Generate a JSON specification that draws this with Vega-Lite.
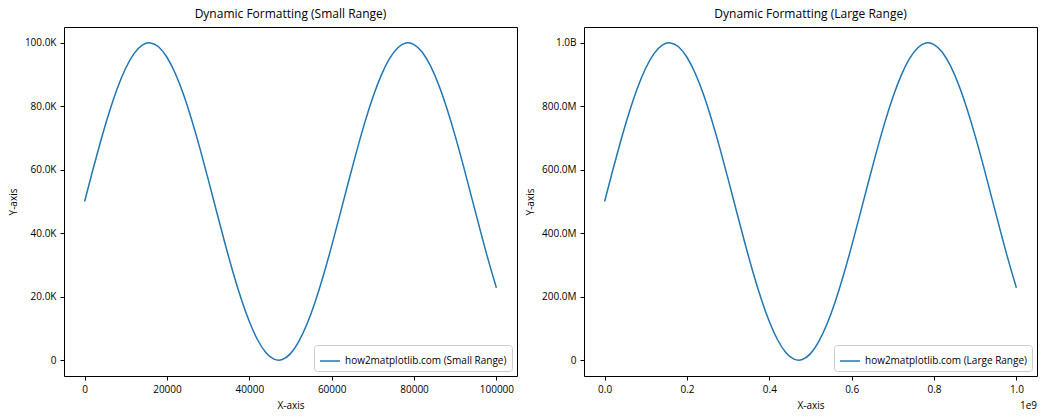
{
  "$schema": "https://vega.github.io/schema/vega-lite/v6.json",
  "background": "white",
  "padding": {"left": 7, "top": 7, "right": 5, "bottom": 5},
  "spacing": 7,
  "config": {
    "font": "Open Sans",
    "view": {"stroke": "black", "strokeWidth": 1},
    "axis": {"grid": false, "domain": false, "tickColor": "black", "tickSize": 4, "labelColor": "black", "labelFontSize": 10, "titleFontSize": 10, "titleFontWeight": "normal", "titleColor": "black", "labelPadding": 4, "titlePadding": 6},
    "title": {"fontSize": 12, "fontWeight": "normal", "offset": 6, "color": "black"},
    "legend": {"symbolType": "stroke", "symbolStrokeWidth": 1.5, "symbolSize": 400, "strokeColor": "#cccccc", "fillColor": "white", "padding": 5, "cornerRadius": 3, "labelFontSize": 10, "labelColor": "black", "labelLimit": 0, "offset": 5}
  },
  "datasets": {
    "small": [
      {"x": 0, "y": 50000}, {"x": 2000, "y": 59934}, {"x": 4000, "y": 69471}, {"x": 6000, "y": 78232}, {"x": 8000, "y": 85868},
      {"x": 10000, "y": 92074}, {"x": 12000, "y": 96602}, {"x": 14000, "y": 99273}, {"x": 16000, "y": 99979}, {"x": 18000, "y": 98693},
      {"x": 20000, "y": 95465}, {"x": 22000, "y": 90425}, {"x": 24000, "y": 83773}, {"x": 26000, "y": 75775}, {"x": 28000, "y": 66750},
      {"x": 30000, "y": 57056}, {"x": 32000, "y": 47082}, {"x": 34000, "y": 37223}, {"x": 36000, "y": 27874}, {"x": 38000, "y": 19407},
      {"x": 40000, "y": 12160}, {"x": 42000, "y": 6421}, {"x": 44000, "y": 2420}, {"x": 46000, "y": 316}, {"x": 48000, "y": 192},
      {"x": 50000, "y": 2054}, {"x": 52000, "y": 5828}, {"x": 54000, "y": 11362}, {"x": 56000, "y": 18437}, {"x": 58000, "y": 26770},
      {"x": 60000, "y": 36029}, {"x": 62000, "y": 45846}, {"x": 64000, "y": 55828}, {"x": 66000, "y": 65577}, {"x": 68000, "y": 74706},
      {"x": 70000, "y": 82850}, {"x": 72000, "y": 89684}, {"x": 74000, "y": 94935}, {"x": 76000, "y": 98396}, {"x": 78000, "y": 99927},
      {"x": 80000, "y": 99468}, {"x": 82000, "y": 97037}, {"x": 84000, "y": 92730}, {"x": 86000, "y": 86720}, {"x": 88000, "y": 79246},
      {"x": 90000, "y": 70606}, {"x": 92000, "y": 61145}, {"x": 94000, "y": 51239}, {"x": 96000, "y": 41284}, {"x": 98000, "y": 31676},
      {"x": 100000, "y": 22799}
    ],
    "large": [
      {"x": 0, "y": 500000000}, {"x": 20000000, "y": 599340000}, {"x": 40000000, "y": 694710000}, {"x": 60000000, "y": 782320000}, {"x": 80000000, "y": 858680000},
      {"x": 100000000, "y": 920740000}, {"x": 120000000, "y": 966020000}, {"x": 140000000, "y": 992730000}, {"x": 160000000, "y": 999790000}, {"x": 180000000, "y": 986930000},
      {"x": 200000000, "y": 954650000}, {"x": 220000000, "y": 904250000}, {"x": 240000000, "y": 837730000}, {"x": 260000000, "y": 757750000}, {"x": 280000000, "y": 667500000},
      {"x": 300000000, "y": 570560000}, {"x": 320000000, "y": 470820000}, {"x": 340000000, "y": 372230000}, {"x": 360000000, "y": 278740000}, {"x": 380000000, "y": 194070000},
      {"x": 400000000, "y": 121600000}, {"x": 420000000, "y": 64210000}, {"x": 440000000, "y": 24200000}, {"x": 460000000, "y": 3160000}, {"x": 480000000, "y": 1920000},
      {"x": 500000000, "y": 20540000}, {"x": 520000000, "y": 58280000}, {"x": 540000000, "y": 113620000}, {"x": 560000000, "y": 184370000}, {"x": 580000000, "y": 267700000},
      {"x": 600000000, "y": 360290000}, {"x": 620000000, "y": 458460000}, {"x": 640000000, "y": 558280000}, {"x": 660000000, "y": 655770000}, {"x": 680000000, "y": 747060000},
      {"x": 700000000, "y": 828500000}, {"x": 720000000, "y": 896840000}, {"x": 740000000, "y": 949350000}, {"x": 760000000, "y": 983960000}, {"x": 780000000, "y": 999270000},
      {"x": 800000000, "y": 994680000}, {"x": 820000000, "y": 970370000}, {"x": 840000000, "y": 927300000}, {"x": 860000000, "y": 867200000}, {"x": 880000000, "y": 792460000},
      {"x": 900000000, "y": 706060000}, {"x": 920000000, "y": 611450000}, {"x": 940000000, "y": 512390000}, {"x": 960000000, "y": 412840000}, {"x": 980000000, "y": 316760000},
      {"x": 1000000000, "y": 227990000}
    ]
  },
  "hconcat": [
    {
      "width": 453,
      "height": 349,
      "title": "Dynamic Formatting (Small Range)",
      "data": {"name": "small"},
      "mark": {"type": "line", "strokeWidth": 1.5, "interpolate": "natural"},
      "encoding": {
        "x": {"field": "x", "type": "quantitative", "scale": {"domain": [-5000, 105000], "nice": false, "zero": false},
              "axis": {"title": "X-axis", "values": [0, 20000, 40000, 60000, 80000, 100000], "format": "d"}},
        "y": {"field": "y", "type": "quantitative", "scale": {"domain": [-5000, 105000], "nice": false, "zero": false},
              "axis": {"title": "Y-axis", "values": [0, 20000, 40000, 60000, 80000, 100000],
                       "labelExpr": "datum.value >= 1e9 ? format(datum.value / 1e9, '.1f') + 'B' : datum.value >= 1e6 ? format(datum.value / 1e6, '.1f') + 'M' : datum.value >= 1e3 ? format(datum.value / 1e3, '.1f') + 'K' : '0'"}},
        "color": {"datum": "how2matplotlib.com (Small Range)", "scale": {"range": ["#1f77b4"]},
                  "legend": {"title": null, "orient": "bottom-right"}}
      }
    },
    {
      "width": 453,
      "height": 349,
      "title": "Dynamic Formatting (Large Range)",
      "layer": [
        {
          "data": {"name": "large"},
          "mark": {"type": "line", "strokeWidth": 1.5, "interpolate": "natural"},
          "encoding": {
            "x": {"field": "x", "type": "quantitative", "scale": {"domain": [-50000000, 1050000000], "nice": false, "zero": false},
                  "axis": {"title": "X-axis", "values": [0, 200000000, 400000000, 600000000, 800000000, 1000000000], "labelExpr": "format(datum.value / 1e9, '.1f')"}},
            "y": {"field": "y", "type": "quantitative", "scale": {"domain": [-50000000, 1050000000], "nice": false, "zero": false},
                  "axis": {"title": "Y-axis", "values": [0, 200000000, 400000000, 600000000, 800000000, 1000000000],
                           "labelExpr": "datum.value >= 1e9 ? format(datum.value / 1e9, '.1f') + 'B' : datum.value >= 1e6 ? format(datum.value / 1e6, '.1f') + 'M' : datum.value >= 1e3 ? format(datum.value / 1e3, '.1f') + 'K' : '0'"}},
            "color": {"datum": "how2matplotlib.com (Large Range)", "scale": {"range": ["#1f77b4"]},
                      "legend": {"title": null, "orient": "bottom-right"}}
          }
        },
        {
          "data": {"values": [{"label": "1e9"}]},
          "mark": {"type": "text", "align": "right", "baseline": "middle", "fontSize": 10, "color": "black"},
          "encoding": {
            "x": {"datum": 1050000000},
            "y": {"datum": -145000000},
            "text": {"field": "label"}
          }
        }
      ]
    }
  ],
  "resolve": {"scale": {"color": "independent"}}
}
